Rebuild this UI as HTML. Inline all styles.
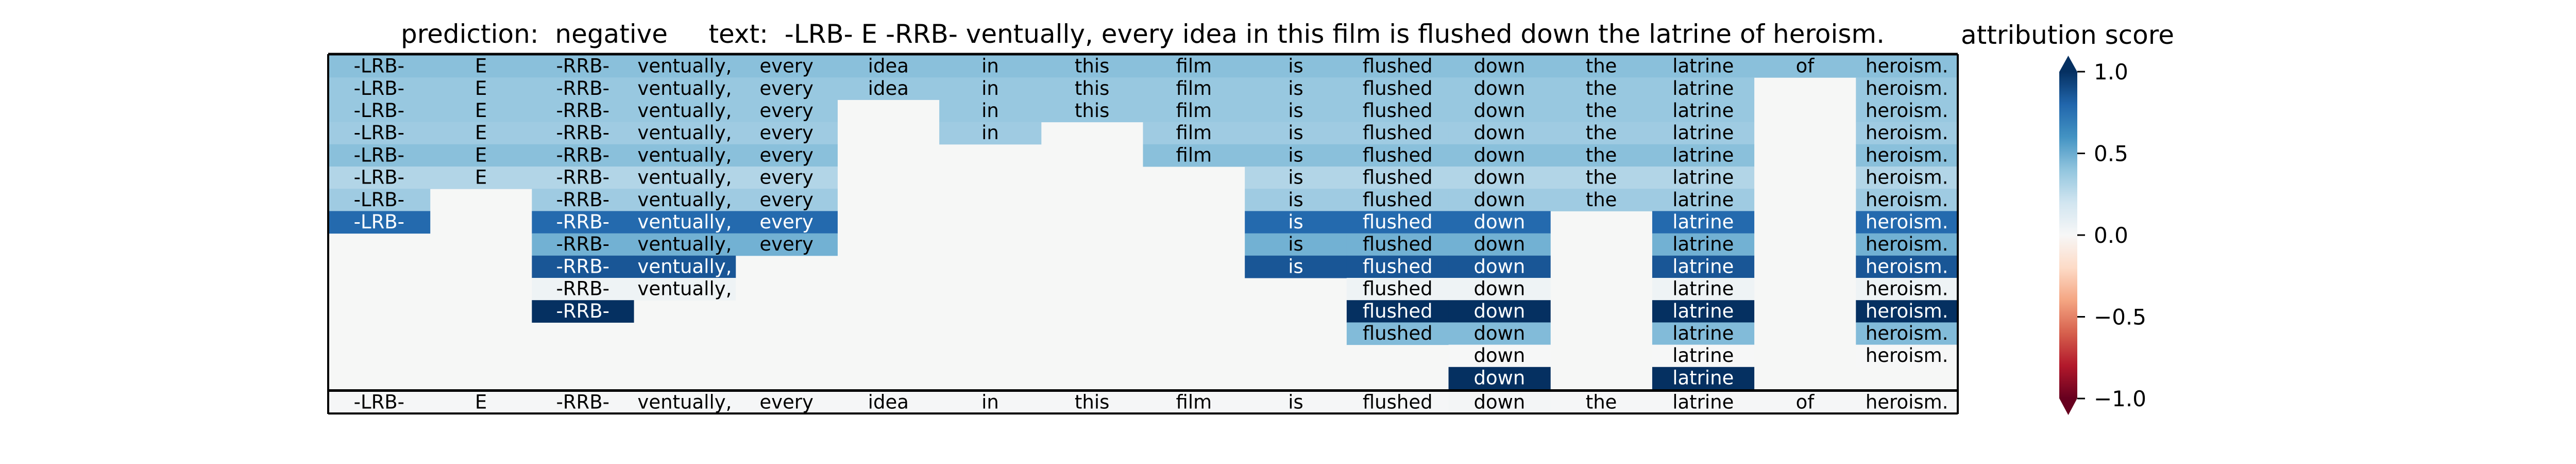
<!DOCTYPE html>
<html><head><meta charset="utf-8">
<style>
html,body{margin:0;padding:0;background:#fff;width:5100px;height:900px;overflow:hidden}
svg{display:block}
text{font-family:"DejaVu Sans","Liberation Sans",sans-serif}
</style></head>
<body>
<svg id="chart" width="5100" height="900" viewBox="0 0 5100 900" xmlns="http://www.w3.org/2000/svg">
<text x="778" y="83" font-size="50" textLength="2880" lengthAdjust="spacingAndGlyphs" xml:space="preserve">prediction:  negative     text:  -LRB- E -RRB- ventually, every idea in this film is flushed down the latrine of heroism.</text>
<text x="3806" y="85" font-size="50" textLength="414" lengthAdjust="spacingAndGlyphs">attribution score</text>
<g id="cells"></g>
<g id="cbar"></g>
</svg>
<script>
const tokens = ["-LRB-","E","-RRB-","ventually,","every","idea","in","this","film","is","flushed","down","the","latrine","of","heroism."];
const n = null;
const row0 = [.42,.42,.42,.42,.42,.42,.42,.42,.42,.42,.42,.42,.42,.42,.42,.42];
const row1 = [.38,.38,.38,.38,.38,.38,.38,.38,.38,.38,.38,.38,.38,.38,n,.38];
const row2 = [.38,.38,.38,.38,.38,n,.38,.38,.38,.38,.38,.38,.38,.38,n,.38];
const row3 = [.36,.36,.36,.36,.36,n,.36,n,.36,.36,.36,.36,.36,.36,n,.36];
const row4 = [.42,.42,.42,.42,.42,n,n,n,.42,.42,.42,.42,.42,.42,n,.42];
const row5 = [.3,.3,.3,.3,.3,n,n,n,n,.3,.3,.3,.3,.3,n,.3];
const row6 = [.36,n,.36,.36,.36,n,n,n,n,.36,.36,.36,.36,.36,n,.36];
const row7 = [.78,n,.78,.78,.78,n,n,n,n,.78,.78,.78,n,.78,n,.78];
const row8 = [n,n,.48,.48,.48,n,n,n,n,.48,.48,.48,n,.48,n,.48];
const row9 = [n,n,.86,.86,n,n,n,n,n,.86,.86,.86,n,.86,n,.86];
const row10 = [n,n,.05,.05,n,n,n,n,n,n,.05,.05,n,.05,n,.05];
const row11 = [n,n,1,n,n,n,n,n,n,n,1,1,n,1,n,1];
const row12 = [n,n,n,n,n,n,n,n,n,n,.44,.44,n,.44,n,.44];
const row13 = [n,n,n,n,n,n,n,n,n,n,n,.005,n,.005,n,.005];
const row14 = [n,n,n,n,n,n,n,n,n,n,n,1,n,1,n,n];
const rows = [row0,row1,row2,row3,row4,row5,row6,row7,row8,row9,row10,row11,row12,row13,row14];
const baseRow = [.01,.01,.01,.01,.01,.01,.01,.01,.01,.01,.01,.02,.01,.01,.01,.01];
const cbarTicks = [1.0,0.5,0.0,-0.5,-1.0];
const cbarTickLabels = ["1.0","0.5","0.0","\u22120.5","\u22121.0"];

const stops=[[103,0,31],[178,24,43],[214,96,77],[244,165,130],[253,219,199],[247,247,247],[209,229,240],[146,197,222],[67,147,195],[33,102,172],[5,48,97]];
function cmap(v){v=Math.max(-1,Math.min(1,v));const t=(v+1)/2*10;const i=Math.min(9,Math.floor(t));const f=t-i;const a=stops[i],b=stops[i+1];return `rgb(${a.map((c,k)=>Math.round(c+(b[k]-c)*f)).join(',')})`;}
const NS="http://www.w3.org/2000/svg";
const X0=637,X1=3800,Y0=107,Y1=755,BY0=760,BY1=801;
const cw=(X1-X0)/tokens.length, rh=(Y1-Y0)/rows.length;
const xPos=i=>X0+i*cw, yPos=r=>Y0+r*rh;
const g=document.getElementById('cells');
function mk(tag,attrs,parent){const e=document.createElementNS(NS,tag);for(const k in attrs)e.setAttribute(k,attrs[k]);parent.appendChild(e);return e;}
const bg=mk('rect',{x:X0,y:Y0,width:X1-X0,height:Y1-Y0,fill:'#f6f7f6'},g);


rows.forEach((row,r)=>{row.forEach((v,c)=>{if(v===null)return;
 const rc=mk('rect',{x:xPos(c),y:yPos(r),width:cw+0.5,height:rh+0.5,fill:cmap(v)},g);
 
 
 const tx=mk('text',{x:xPos(c)+cw/2,y:yPos(r)+rh/2+12,'font-size':37,'text-anchor':'middle',fill:v>0.6?'#fff':'#000'},g);
 tx.textContent=tokens[c];
 
 
});});
baseRow.forEach((v,c)=>{
 const rc=mk('rect',{x:xPos(c),y:BY0,width:cw+0.5,height:BY1-BY0,fill:cmap(v)},g);
 
 
 const tx=mk('text',{x:xPos(c)+cw/2,y:BY0+(BY1-BY0)/2+12,'font-size':37,'text-anchor':'middle',fill:'#000'},g);
 tx.textContent=tokens[c];
 
 
});
// borders
[[X0,Y0-2,X1,Y0-2,5],[X0,Y0-2,X0,BY1+2,4],[X1,Y0-2,X1,BY1+2,4],[X0,(Y1+BY0)/2,X1,(Y1+BY0)/2,5],[X0,BY1+1,X1,BY1+1,4]].forEach(l=>{
 const ln=mk('line',{x1:l[0],y1:l[1],x2:l[2],y2:l[3],stroke:'#000','stroke-width':l[4]},g);
 
 
});
// colorbar
const cb=document.getElementById('cbar');
const CX0=3997,CX1=4032,CT=139,CB=773;
const cy=v=>CB-(v+1)/2*(CB-CT);
const defs=mk('defs',{},cb);
const grad=mk('linearGradient',{id:'cg',x1:0,y1:1,x2:0,y2:0},defs);
stops.forEach((s,i)=>mk('stop',{offset:(i/10),'stop-color':`rgb(${s.join(',')})`},grad));
const cr=mk('rect',{x:CX0,y:CT,width:CX1-CX0,height:CB-CT,fill:'url(#cg)'},cb);


const tt=mk('polygon',{points:`${CX0},${CT+0.5} ${(CX0+CX1)/2},108 ${CX1},${CT+0.5}`,fill:'rgb(5,48,97)'},cb);


const tb=mk('polygon',{points:`${CX0},${CB-0.5} ${(CX0+CX1)/2},805 ${CX1},${CB-0.5}`,fill:'rgb(103,0,31)'},cb);


cbarTicks.forEach((v,i)=>{
 const ln=mk('line',{x1:CX1,x2:CX1+15,y1:cy(v),y2:cy(v),stroke:'#000','stroke-width':3},cb);
 
 
 const t=mk('text',{x:4064,y:cy(v)+15,'font-size':42,fill:'#000'},cb);
 t.textContent=cbarTickLabels[i];
 
 
});
</script>
</body></html>
